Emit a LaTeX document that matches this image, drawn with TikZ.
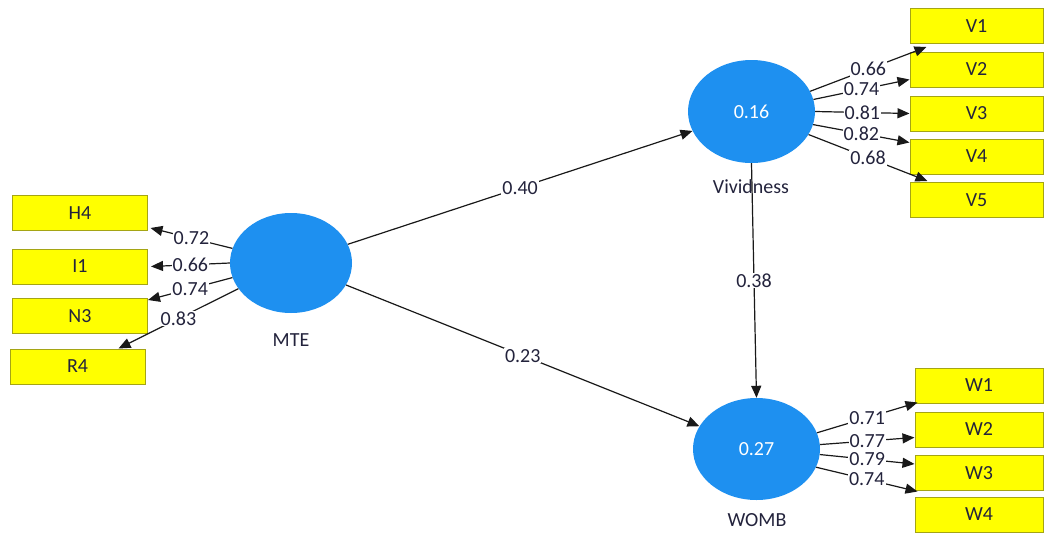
\documentclass[tikz,border=0pt]{standalone}
\usepackage{fontspec}
\setmainfont{Carlito}
\usetikzlibrary{arrows.meta,shapes.geometric}
\definecolor{latent}{RGB}{30,144,240}
\definecolor{boxfill}{RGB}{255,255,0}
\definecolor{boxdraw}{RGB}{165,165,20}
\definecolor{txt}{RGB}{35,35,60}
\tikzset{
  ind/.style={rectangle,fill=boxfill,draw=boxdraw,line width=1pt,minimum height=35pt,inner sep=0pt,text=txt,font=\fontsize{20}{22}\selectfont},
  lat/.style={ellipse,fill=latent,draw=none,inner sep=0pt,text=white,font=\fontsize{20}{22}\selectfont},
  latname/.style={text=txt,font=\fontsize{20}{22}\selectfont},
  conn/.style={draw=black!90,line width=1.2pt,-{Triangle[length=12pt,width=10pt]}},
  wt/.style={midway,fill=white,inner sep=1pt,text=txt,font=\fontsize{20}{22}\selectfont}
}
\begin{document}
\begin{tikzpicture}[x=1pt,y=-1pt]
\useasboundingbox (0,0) rectangle (1045,533);
% latent variables
\node[lat,minimum width=122pt,minimum height=100pt] (mte) at (291,263) {};
\node[lat,minimum width=127pt,minimum height=103pt] (viv) at (751.5,111.5) {0.16};
\node[lat,minimum width=127pt,minimum height=102pt] (womb) at (756.5,449) {0.27};
\node[latname] (mtel) at (291,340) {MTE};
\node[latname] (vivl) at (751,187) {Vividness};
\node[latname] (wombl) at (757,520) {WOMB};
% indicators left
\node[ind,minimum width=135pt] (h4) at (80,213) {H4};
\node[ind,minimum width=135pt] (i1) at (80,266.5) {I1};
\node[ind,minimum width=135pt] (n3) at (80,316) {N3};
\node[ind,minimum width=135pt] (r4) at (77.5,366.5) {R4};
% indicators vividness
\node[ind,minimum width=133pt] (v1) at (976.5,26) {V1};
\node[ind,minimum width=133pt] (v2) at (976.5,69.5) {V2};
\node[ind,minimum width=133pt] (v3) at (976.5,113.5) {V3};
\node[ind,minimum width=133pt] (v4) at (976.5,156.5) {V4};
\node[ind,minimum width=133pt] (v5) at (976.5,200) {V5};
% indicators womb
\node[ind,minimum width=128pt] (w1) at (979,385.5) {W1};
\node[ind,minimum width=128pt] (w2) at (979,429.5) {W2};
\node[ind,minimum width=128pt] (w3) at (979,473) {W3};
\node[ind,minimum width=128pt] (w4) at (979,514.5) {W4};
% structural paths
\draw[conn] (mte) -- node[wt] {0.40} (viv);
\draw[conn] (mte) -- node[wt] {0.23} (womb);
\draw[conn] (viv.south) -- node[wt] {0.38} (womb.north);
% MTE loadings
\draw[conn] (mte.166) -- node[wt] {0.72} ([xshift=2.5pt,yshift=3pt]h4.south east);
\draw[conn] (mte.180) -- node[wt] {0.66} ([xshift=3pt]i1.east);
\draw[conn] (mte.194) -- node[wt] {0.74} ([yshift=-2pt]n3.north east);
\draw[conn] (mte.206) -- node[wt] {0.83} ([xshift=-27pt]r4.north east);
% Vividness loadings
\draw[conn] (viv.19) -- node[wt] {0.66} ([xshift=17pt,yshift=-3pt]v1.south west);
\draw[conn] (viv.11) -- node[wt] {0.74} ([yshift=-10pt]v2.west);
\draw[conn] (viv.0) -- node[wt] {0.81} (v3.west);
\draw[conn] (viv.-12) -- node[wt] {0.82} ([yshift=-4pt]v4.north west);
\draw[conn] (viv.-22) -- node[wt] {0.68} ([xshift=18pt,yshift=1pt]v5.north west);
% WOMB loadings
\draw[conn] (womb.15) -- node[wt] {0.71} ([xshift=3pt,yshift=1pt]w1.south west);
\draw[conn] (womb.4) -- node[wt] {0.77} ([yshift=-8pt]w2.west);
\draw[conn] (womb.-5) -- node[wt] {0.79} ([yshift=9pt]w3.west);
\draw[conn] (womb.-17) -- node[wt] {0.74} ([xshift=3pt,yshift=5pt]w4.north west);
\end{tikzpicture}
\end{document}
